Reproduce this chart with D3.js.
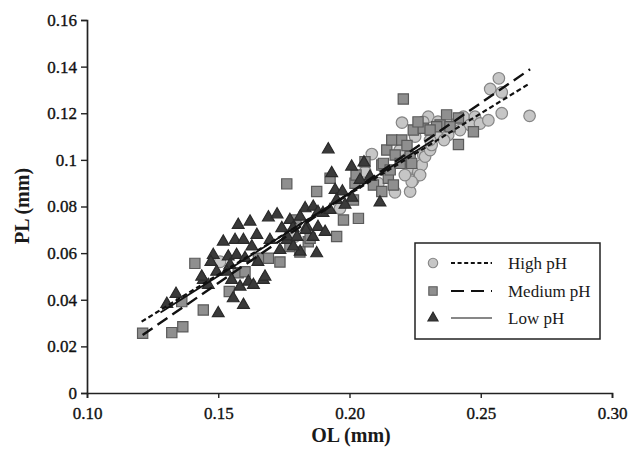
<!DOCTYPE html>
<html><head><meta charset="utf-8">
<script src="https://cdn.jsdelivr.net/npm/d3@7"></script>
<style>body{margin:0;background:#fff}svg{display:block}</style>
</head><body>
<svg id="c" width="630" height="455"></svg>
<script>
// ---- data ----
const xTicks = [0.10, 0.15, 0.20, 0.25, 0.30];
const xTickLabels = ["0.10", "0.15", "0.20", "0.25", "0.30"];
const yTicks = [0, 0.02, 0.04, 0.06, 0.08, 0.10, 0.12, 0.14, 0.16];
const yTickLabels = ["0", "0.02", "0.04", "0.06", "0.08", "0.1", "0.12", "0.14", "0.16"];
const seriesNames = ["High pH", "Medium pH", "Low pH"];

const highPH = [
  [0.1507,0.0563],[0.1792,0.0671],[0.1964,0.0792],[0.2085,0.1025],[0.2173,0.0861],[0.2231,0.0864],
  [0.2243,0.0914],[0.2256,0.0957],[0.2231,0.0967],[0.2281,0.1021],[0.2262,0.0949],[0.2275,0.0978],
  [0.2288,0.1014],[0.2307,0.1042],[0.2269,0.0935],[0.2237,0.0906],[0.2300,0.1185],[0.2332,0.1142],
  [0.2281,0.1163],[0.2313,0.1064],[0.2337,0.1164],[0.2376,0.1107],[0.2332,0.1107],[0.2307,0.1085],
  [0.2408,0.1157],[0.2434,0.1185],[0.2478,0.1185],[0.2459,0.1150],[0.2497,0.1156],[0.2529,0.1170],
  [0.2580,0.1200],[0.2686,0.1189],[0.2536,0.1304],[0.2580,0.1290],[0.2569,0.1350],[0.2192,0.1042],
  [0.2211,0.0935],[0.2135,0.0957],[0.2360,0.1085],[0.2421,0.1128],[0.2200,0.1160],[0.2110,0.0900],
  [0.2250,0.1100],[0.2060,0.0950]
];
const mediumPH = [
  [0.1212,0.0256],[0.1323,0.0259],[0.1365,0.0284],[0.1361,0.0392],[0.1411,0.0556],[0.1443,0.0356],
  [0.1542,0.0435],[0.1576,0.0516],[0.1602,0.0520],[0.1691,0.0578],[0.1653,0.0578],[0.1761,0.0897],
  [0.1843,0.0649],[0.1875,0.0864],[0.1773,0.0628],[0.1926,0.0921],[0.1977,0.0742],[0.2034,0.0749],
  [0.2015,0.0828],[0.2021,0.0900],[0.2091,0.0892],[0.2123,0.0978],[0.2142,0.1042],[0.2161,0.1085],
  [0.2199,0.1085],[0.2219,0.1062],[0.2205,0.1261],[0.2243,0.1128],[0.2148,0.0921],[0.2123,0.0864],
  [0.2174,0.1021],[0.2231,0.1014],[0.2281,0.1136],[0.2129,0.0985],[0.2155,0.0957],[0.2193,0.0985],
  [0.2237,0.0985],[0.2025,0.0935],[0.2059,0.0992],[0.2167,0.0892],[0.2370,0.1193],[0.2415,0.1180],
  [0.2472,0.1121],[0.2415,0.1066],[0.2345,0.1150],[0.1951,0.0671],[0.1850,0.0664],[0.2332,0.1142],
  [0.2383,0.1142],[0.1735,0.0562],[0.1811,0.0605],[0.1796,0.0742],[0.2261,0.1163],[0.2307,0.1128]
];
const lowPH = [
  [0.1304,0.0382],[0.1339,0.0425],[0.1443,0.0485],[0.1462,0.0463],[0.1481,0.0592],[0.1500,0.0342],
  [0.1519,0.0649],[0.1538,0.0585],[0.1545,0.0549],[0.1564,0.0656],[0.1576,0.0721],[0.1596,0.0656],
  [0.1596,0.0378],[0.1557,0.0406],[0.1583,0.0456],[0.1615,0.0477],[0.1634,0.0463],[0.1621,0.0735],
  [0.1647,0.0678],[0.1672,0.0485],[0.1691,0.0753],[0.1724,0.0766],[0.1742,0.0707],[0.1762,0.0656],
  [0.1773,0.0742],[0.1812,0.0606],[0.1831,0.0792],[0.1862,0.0799],[0.1875,0.0599],[0.1570,0.0592],
  [0.1628,0.0628],[0.1532,0.0520],[0.1494,0.0520],[0.1551,0.0485],[0.1735,0.0613],[0.1786,0.0628],
  [0.1837,0.0713],[0.1880,0.0776],[0.1899,0.0772],[0.1926,0.0785],[0.1919,0.1045],[0.1932,0.0943],
  [0.2008,0.0971],[0.2055,0.0989],[0.1945,0.0871],[0.1973,0.0864],[0.2078,0.0928],[0.2116,0.0817],
  [0.1437,0.0499],[0.1678,0.0499],[0.1951,0.0828],[0.1785,0.0708],[0.1834,0.0699],[0.1880,0.0712],
  [0.1907,0.0691],[0.1762,0.0671],[0.1800,0.0669],[0.1861,0.0669],[0.2040,0.0914],[0.1983,0.0807],
  [0.2010,0.0837],[0.1812,0.0756],[0.1472,0.0562],[0.1602,0.0579],[0.1651,0.0562],[0.1697,0.0656]
];
// trend lines (endpoints)
const highFit = [[0.1208,0.0306],[0.2688,0.1329]];
const mediumFit = [[0.1212,0.0249],[0.2688,0.1389]];
const lowFit = [[0.128,0.0345],[0.232,0.1085]];

// ---- drawing ----
const svg = d3.select("#c");
const x = d3.scaleLinear().domain([0.10, 0.30]).range([87, 612]);
const y = d3.scaleLinear().domain([0, 0.16]).range([393, 20]);
const serif = "'Liberation Serif','Times New Roman',serif";

const xAxis = svg.append("g").attr("transform", "translate(0,393)")
  .call(d3.axisBottom(x).tickValues(xTicks).tickFormat((d,i)=>xTickLabels[i]).tickSizeOuter(0).tickSize(5).tickPadding(9));
const yAxis = svg.append("g").attr("transform", "translate(87,0)")
  .call(d3.axisLeft(y).tickValues(yTicks).tickFormat((d,i)=>yTickLabels[i]).tickSizeOuter(0).tickSize(6).tickPadding(4));
[xAxis, yAxis].forEach(g => {
  g.select(".domain").attr("stroke", "#222").attr("stroke-width", 1.7);
  g.selectAll(".tick line").attr("stroke", "#222").attr("stroke-width", 1.4);
  g.selectAll("text").attr("font-family", serif).attr("font-size", 17).attr("fill", "#111")
    .attr("stroke", "#111").attr("stroke-width", 0.35);
});

const sym = (type, size) => d3.symbol().type(type).size(size)();
const styles = [
  {data: highPH, path: sym(d3.symbolCircle, 105), fill: "#c6c6c6", stroke: "#858585"},
  {data: mediumPH, path: sym(d3.symbolSquare, 105), fill: "#8f8f8f", stroke: "#5a5a5a"},
  {data: lowPH, path: sym(d3.symbolTriangle, 60), fill: "#3a3a3a", stroke: "#2a2a2a"}
];
styles.forEach(s => {
  svg.append("g").selectAll("path").data(s.data).join("path")
    .attr("d", s.path)
    .attr("transform", d => `translate(${x(d[0])},${y(d[1])})`)
    .attr("fill", s.fill).attr("stroke", s.stroke).attr("stroke-width", 1.2);
});

const line = d3.line().x(d => x(d[0])).y(d => y(d[1]));
const lineStyles = [
  {data: highFit, dash: "5,3", w: 2.2},
  {data: mediumFit, dash: "12,6", w: 2.4},
  {data: lowFit, dash: null, w: 1.8}
];
lineStyles.forEach(l => {
  svg.append("path").datum(l.data).attr("d", line)
    .attr("fill", "none").attr("stroke", "#111").attr("stroke-width", l.w)
    .attr("stroke-dasharray", l.dash);
});

// axis titles
svg.append("text").attr("x", 351).attr("y", 442).attr("text-anchor", "middle")
  .attr("font-family", serif).attr("font-weight", "bold").attr("font-size", 20).attr("fill", "#1a1a1a")
  .text("OL (mm)");
svg.append("text").attr("transform", "translate(29,206) rotate(-90)").attr("text-anchor", "middle")
  .attr("font-family", serif).attr("font-weight", "bold").attr("font-size", 20).attr("fill", "#1a1a1a")
  .text("PL (mm)");

// legend
const lg = svg.append("g");
lg.append("rect").attr("x", 415).attr("y", 243).attr("width", 185).attr("height", 96)
  .attr("fill", "#fff").attr("stroke", "#222").attr("stroke-width", 1.5);
const rows = [263, 291, 318];
const legSyms = [sym(d3.symbolCircle, 70), sym(d3.symbolSquare, 70), sym(d3.symbolTriangle, 45)];
seriesNames.forEach((name, i) => {
  lg.append("path").attr("d", legSyms[i]).attr("transform", `translate(433,${rows[i]})`)
    .attr("fill", styles[i].fill).attr("stroke", styles[i].stroke).attr("stroke-width", 1.1);
  lg.append("line").attr("x1", 451).attr("x2", 492).attr("y1", rows[i]).attr("y2", rows[i])
    .attr("stroke", "#111").attr("stroke-width", i === 2 ? 1.2 : 2)
    .attr("stroke-dasharray", i === 0 ? "4,2.6" : (i === 1 ? "13,7" : null));
  lg.append("text").attr("x", 508).attr("y", rows[i] + 6).attr("font-family", serif)
    .attr("font-size", 17).attr("fill", "#1a1a1a").text(name);
});
</script>
</body></html>
